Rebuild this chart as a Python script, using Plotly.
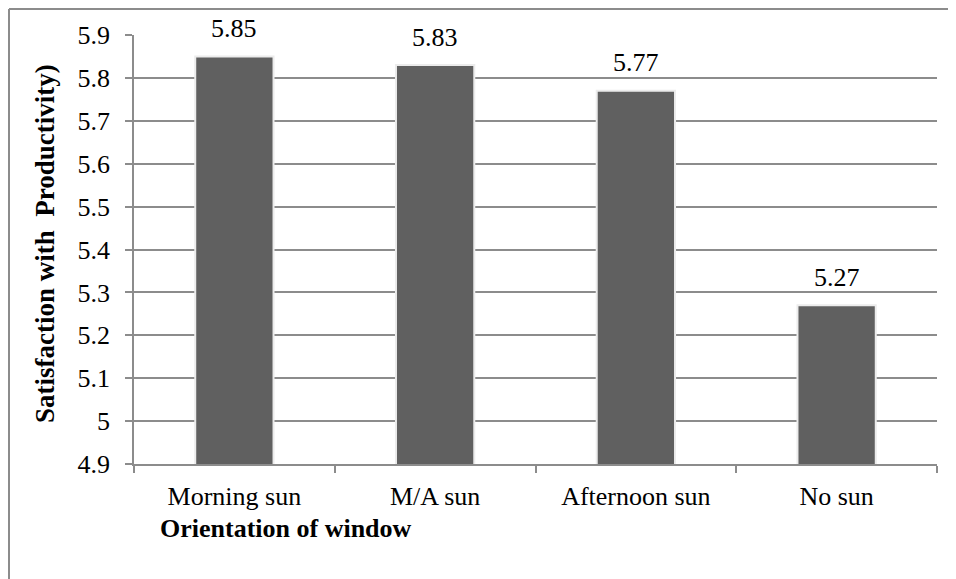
import plotly.graph_objects as go

categories = ["Morning sun", "M/A sun", "Afternoon sun", "No sun"]
values = [5.85, 5.83, 5.77, 5.27]
y_ticks = [4.9, 5, 5.1, 5.2, 5.3, 5.4, 5.5, 5.6, 5.7, 5.8, 5.9]
y_tick_labels = ["4.9", "5", "5.1", "5.2", "5.3", "5.4", "5.5", "5.6", "5.7", "5.8", "5.9"]

font_family = "Liberation Serif"
grid_col = "#8c8c8c"
fsize = 26

# the page adds an 8px body margin, so figure coords = screen coords - 8
L, R, T, B = 126, 27, 27, 123
PW, PH = 956 - L - R, 579 - T - B


def px_x(fx):
    return (fx - L) / PW


def px_y(fy):
    return (579 - B - fy) / PH


fig = go.Figure()
fig.add_trace(go.Bar(
    x=categories,
    y=values,
    width=0.39,
    marker=dict(color="#606060", line=dict(color="#ececec", width=2)),
))

# value labels above bars
for c, v in zip(categories, values):
    fig.add_annotation(
        x=c, y=v, text=f"{v:.2f}", showarrow=False,
        yanchor="middle", yshift=28,
        font=dict(family=font_family, size=fsize, color="black"),
    )

fig.update_layout(
    width=956, height=579,
    margin=dict(l=L, r=R, t=T, b=B),
    plot_bgcolor="white", paper_bgcolor="white",
    font=dict(family=font_family, size=fsize, color="black"),
    showlegend=False,
)
fig.update_yaxes(
    range=[4.9, 5.9],
    tickvals=y_ticks, ticktext=y_tick_labels,
    showgrid=True, gridcolor=grid_col, gridwidth=1.5,
    showline=True, linecolor=grid_col, linewidth=1.5,
    ticks="outside", ticklen=7, tickcolor=grid_col, tickwidth=1.5,
    tickfont=dict(family=font_family, size=fsize), zeroline=False,
    ticklabelstandoff=10,
)
fig.update_xaxes(
    showline=True, linecolor=grid_col, linewidth=1.5,
    ticks="outside", tickson="boundaries", ticklen=7, tickcolor=grid_col, tickwidth=1.5,
    tickfont=dict(family=font_family, size=fsize), showgrid=False,
    ticklabelstandoff=8,
)
fig.add_annotation(
    text="<b>Orientation of window</b>", xref="paper", yref="paper",
    x=px_x(150), y=px_y(520), xanchor="left", yanchor="middle",
    showarrow=False, font=dict(family=font_family, size=fsize),
)
fig.add_annotation(
    text="<b>Satisfaction with  Productivity)</b>", xref="paper", yref="paper",
    x=px_x(37), y=px_y(236), xanchor="center", yanchor="middle", textangle=-90,
    showarrow=False, font=dict(family=font_family, size=27),
)
# outer chart frame (top and left edges)
fig.add_shape(type="line", xref="paper", yref="paper",
              x0=px_x(1), x1=px_x(970), y0=px_y(1), y1=px_y(1),
              line=dict(color="#8c8c8c", width=2))
fig.add_shape(type="line", xref="paper", yref="paper",
              x0=px_x(1), x1=px_x(1), y0=px_y(1), y1=px_y(590),
              line=dict(color="#8c8c8c", width=2))

fig.write_html("out.html")
